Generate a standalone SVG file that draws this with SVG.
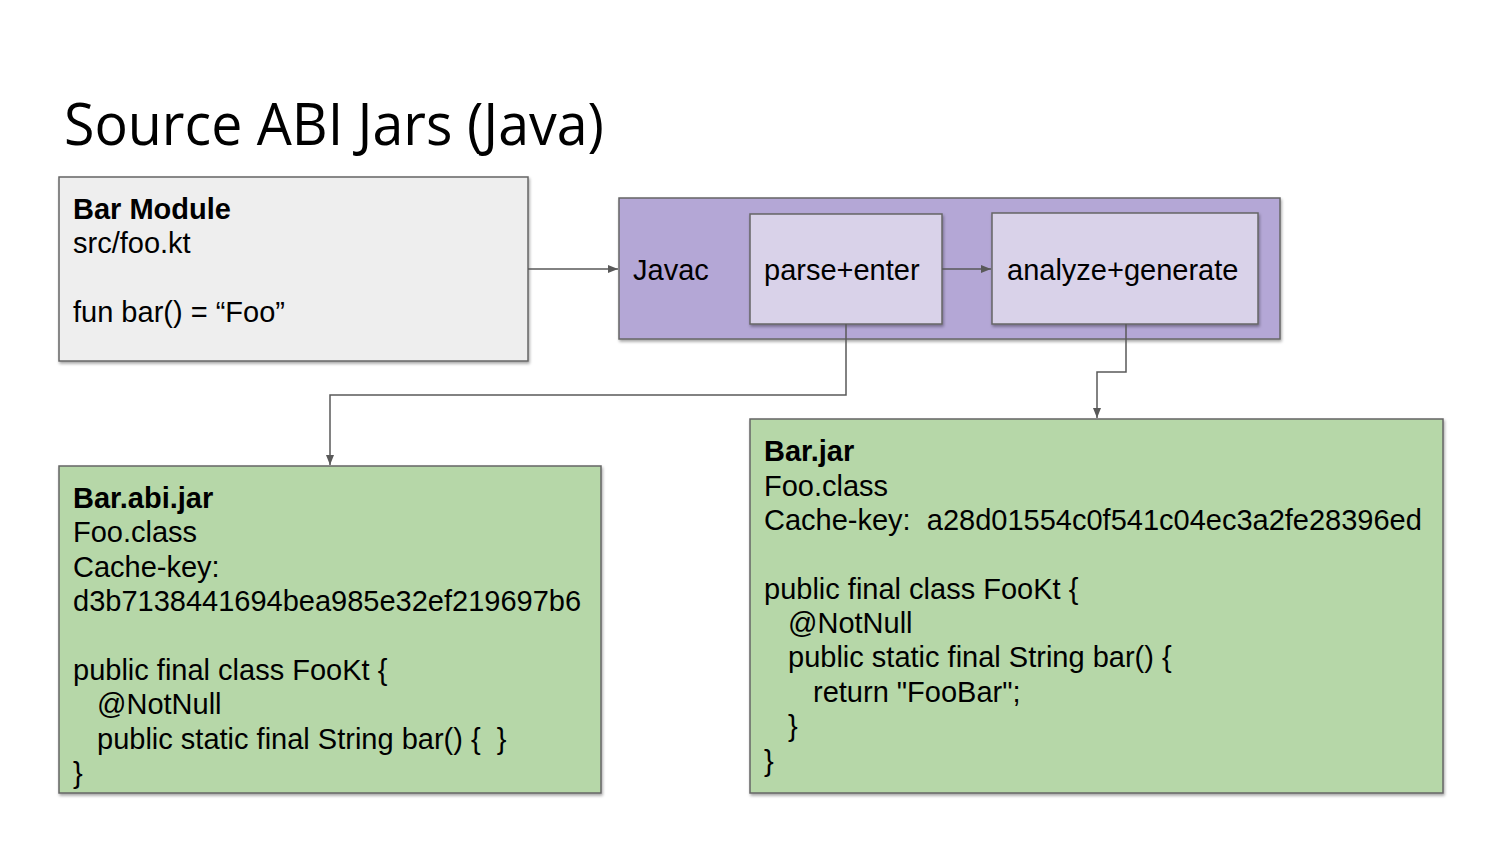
<svg xmlns="http://www.w3.org/2000/svg" width="1500" height="844" viewBox="0 0 1500 844">
<defs>
<filter id="sh" x="-5%" y="-5%" width="110%" height="115%">
<feDropShadow dx="1" dy="2" stdDeviation="1.5" flood-color="#000" flood-opacity="0.35"/>
</filter>
<marker id="ar" viewBox="0 0 10 10" refX="10" refY="5" markerWidth="10" markerHeight="10" markerUnits="userSpaceOnUse" orient="auto">
<path d="M0,1 L10,5 L0,9 Z" fill="#595959"/>
</marker>
</defs>
<style>
text{font-family:"Liberation Sans",Arial,sans-serif;font-size:29px;fill:#000}
.b{font-weight:bold}
.box{stroke:#666;stroke-width:1.5;filter:url(#sh)}
.grey{fill:#eeeeee}
.purple{fill:#b4a7d6}
.lav{fill:#d9d2e9}
.green{fill:#b6d7a8}
.c{fill:none;stroke:#595959;stroke-width:1.5}
.title{font-size:58px;font-family:"Open Sans","Liberation Sans",sans-serif}
</style>
<rect width="1500" height="844" fill="#fff"/>
<text class="title" x="64" y="145" textLength="540" lengthAdjust="spacingAndGlyphs">Source ABI Jars (Java)</text>
<g id="bar-module">
<rect class="box grey" x="59" y="177" width="469" height="184"/>
<text x="73" y="219" class="b">Bar Module</text>
<text x="73" y="253">src/foo.kt</text>
<text x="73" y="322">fun bar() = “Foo”</text>
</g>
<g id="javac">
<rect class="box purple" x="619" y="198" width="661" height="141"/>
<text x="633" y="280">Javac</text>
</g>
<g id="parse-enter">
<rect class="box lav" x="750" y="214" width="192" height="110"/>
<text x="764" y="280">parse+enter</text>
</g>
<g id="analyze-generate">
<rect class="box lav" x="992" y="213" width="266" height="111"/>
<text x="1007" y="280">analyze+generate</text>
</g>
<g id="bar-abi-jar">
<rect class="box green" x="59" y="466" width="542" height="327"/>
<text x="73" y="508" class="b">Bar.abi.jar</text>
<text x="73" y="542">Foo.class</text>
<text x="73" y="577">Cache-key:</text>
<text x="73" y="611">d3b7138441694bea985e32ef219697b6</text>
<text x="73" y="680">public final class FooKt {</text>
<text x="97" y="714">@NotNull</text>
<text x="97" y="749" xml:space="preserve">public static final String bar() {  }</text>
<text x="73" y="783">}</text>
</g>
<g id="bar-jar">
<rect class="box green" x="750" y="419" width="693" height="374"/>
<text x="764" y="461" class="b">Bar.jar</text>
<text x="764" y="496">Foo.class</text>
<text x="764" y="530" xml:space="preserve">Cache-key:  a28d01554c0f541c04ec3a2fe28396ed</text>
<text x="764" y="599">public final class FooKt {</text>
<text x="788" y="633">@NotNull</text>
<text x="788" y="667">public static final String bar() {</text>
<text x="813" y="702">return "FooBar";</text>
<text x="788" y="736">}</text>
<text x="764" y="771">}</text>
</g>
<g id="connectors">
<path class="c" d="M528,269 H618" marker-end="url(#ar)"/>
<path class="c" d="M942,269 H991" marker-end="url(#ar)"/>
<path class="c" d="M846,324 V395 H330 V465" marker-end="url(#ar)"/>
<path class="c" d="M1126,324 V372 H1097 V418" marker-end="url(#ar)"/>
</g>
</svg>
